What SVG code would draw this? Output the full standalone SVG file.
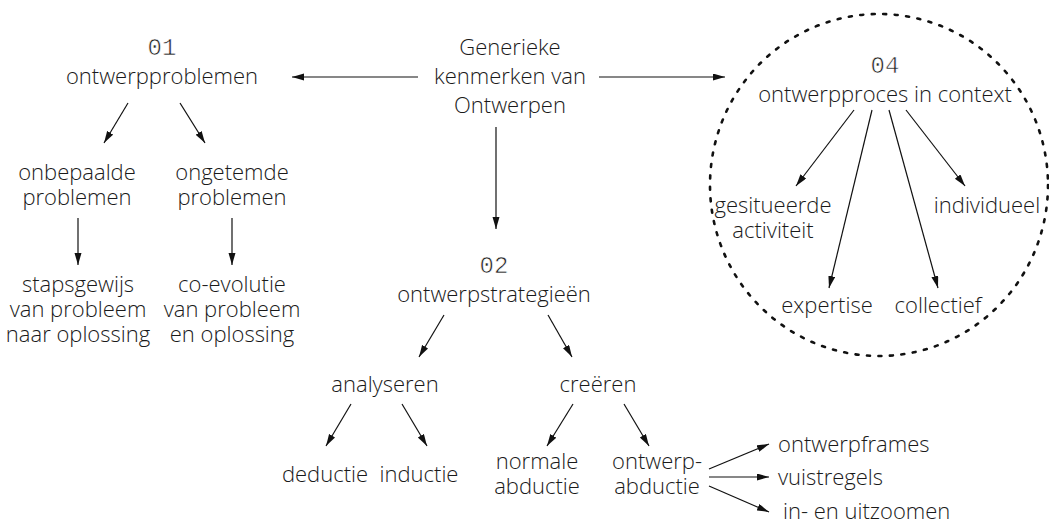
<svg xmlns="http://www.w3.org/2000/svg" width="1049" height="524" viewBox="0 0 1049 524">
  <style>
    .t { font-family: "Open Sans", "Liberation Sans", sans-serif; font-size: 22px; font-weight: 350; fill: #1a1a1a; }
    .c { text-anchor: middle; }
    /* chapter numbers: mono digits, thinned by a white outline */
    .num { font-family: "Liberation Mono", "DejaVu Sans Mono", monospace; font-size: 24px; fill: #222; stroke: #fff; stroke-width: 0.6; text-anchor: middle; }
    .edge { stroke: #111; stroke-width: 1.2; fill: none; marker-end: url(#arrow); }
    .ring { fill: none; stroke: #111; stroke-width: 2.6; stroke-dasharray: 3 8.5; stroke-linecap: round; }
  </style>
  <defs>
    <marker id="arrow" markerUnits="userSpaceOnUse" markerWidth="13" markerHeight="8" refX="12" refY="3.5" orient="auto">
      <path d="M0,0 L12,3.5 L0,7 z" fill="#111"/>
    </marker>
  </defs>
  <rect width="1049" height="524" fill="#fff"/>

  <!-- dotted boundary around the context cluster -->
  <ellipse class="ring" cx="879" cy="185" rx="169" ry="171"/>

  <g id="connectors">
    <line class="edge" x1="418" y1="77" x2="292" y2="77"/>
    <line class="edge" x1="599" y1="77" x2="725" y2="77"/>
    <line class="edge" x1="496" y1="127" x2="496" y2="229"/>
    <line class="edge" x1="128" y1="103" x2="104" y2="143"/>
    <line class="edge" x1="180" y1="103" x2="205" y2="143"/>
    <line class="edge" x1="78" y1="218" x2="78" y2="265"/>
    <line class="edge" x1="232" y1="218" x2="232" y2="265"/>
    <line class="edge" x1="444" y1="315" x2="419" y2="357"/>
    <line class="edge" x1="548" y1="315" x2="572" y2="357"/>
    <line class="edge" x1="351" y1="404" x2="326" y2="446"/>
    <line class="edge" x1="402" y1="404" x2="427" y2="446"/>
    <line class="edge" x1="573" y1="404" x2="547" y2="446"/>
    <line class="edge" x1="624" y1="404" x2="649" y2="446"/>
    <line class="edge" x1="709" y1="469" x2="769" y2="444"/>
    <line class="edge" x1="709" y1="477" x2="769" y2="477"/>
    <line class="edge" x1="709" y1="486" x2="769" y2="512"/>
    <line class="edge" x1="854" y1="110" x2="796" y2="186"/>
    <line class="edge" x1="872" y1="110" x2="829" y2="288"/>
    <line class="edge" x1="889" y1="110" x2="938" y2="288"/>
    <line class="edge" x1="906" y1="110" x2="965" y2="186"/>
  </g>

  <g id="generiek">
    <text class="t c" x="510" y="55">Generieke</text>
    <text class="t c" x="510" y="84">kenmerken van</text>
    <text class="t c" x="510" y="113">Ontwerpen</text>
  </g>

  <g id="ontwerpproblemen">
    <text class="num" x="162" y="55">01</text>
    <text class="t c" x="162" y="84">ontwerpproblemen</text>
  </g>
  <g id="onbepaalde">
    <text class="t c" x="77" y="180">onbepaalde</text>
    <text class="t c" x="77" y="205">problemen</text>
  </g>
  <g id="ongetemde">
    <text class="t c" x="232" y="180">ongetemde</text>
    <text class="t c" x="232" y="205">problemen</text>
  </g>
  <g id="stapsgewijs">
    <text class="t c" x="78" y="292">stapsgewijs</text>
    <text class="t c" x="78" y="317">van probleem</text>
    <text class="t c" x="78" y="342">naar oplossing</text>
  </g>
  <g id="coevolutie">
    <text class="t c" x="232" y="292">co-evolutie</text>
    <text class="t c" x="232" y="317">van probleem</text>
    <text class="t c" x="232" y="342">en oplossing</text>
  </g>

  <g id="ontwerpstrategieen">
    <text class="num" x="494" y="273">02</text>
    <text class="t c" x="494" y="302">ontwerpstrategieën</text>
  </g>
  <g id="analyseren">
    <text class="t c" x="385" y="392">analyseren</text>
  </g>
  <g id="creeren">
    <text class="t c" x="598" y="392">creëren</text>
  </g>
  <g id="deductie">
    <text class="t c" x="325" y="482">deductie</text>
  </g>
  <g id="inductie">
    <text class="t c" x="419" y="482">inductie</text>
  </g>
  <g id="normale-abductie">
    <text class="t c" x="537" y="469">normale</text>
    <text class="t c" x="537" y="494">abductie</text>
  </g>
  <g id="ontwerp-abductie">
    <text class="t c" x="657" y="469">ontwerp-</text>
    <text class="t c" x="657" y="494">abductie</text>
  </g>
  <g id="ontwerpframes">
    <text class="t" x="778" y="452">ontwerpframes</text>
  </g>
  <g id="vuistregels">
    <text class="t" x="778" y="485">vuistregels</text>
  </g>
  <g id="zoomen">
    <text class="t" x="783" y="519">in- en uitzoomen</text>
  </g>

  <g id="ontwerpproces">
    <text class="num" x="885" y="73">04</text>
    <text class="t c" x="885" y="102">ontwerpproces in context</text>
  </g>
  <g id="gesitueerde">
    <text class="t c" x="773" y="213">gesitueerde</text>
    <text class="t c" x="773" y="238">activiteit</text>
  </g>
  <g id="individueel">
    <text class="t c" x="987" y="213">individueel</text>
  </g>
  <g id="expertise">
    <text class="t c" x="827" y="313">expertise</text>
  </g>
  <g id="collectief">
    <text class="t c" x="938" y="313">collectief</text>
  </g>
</svg>
